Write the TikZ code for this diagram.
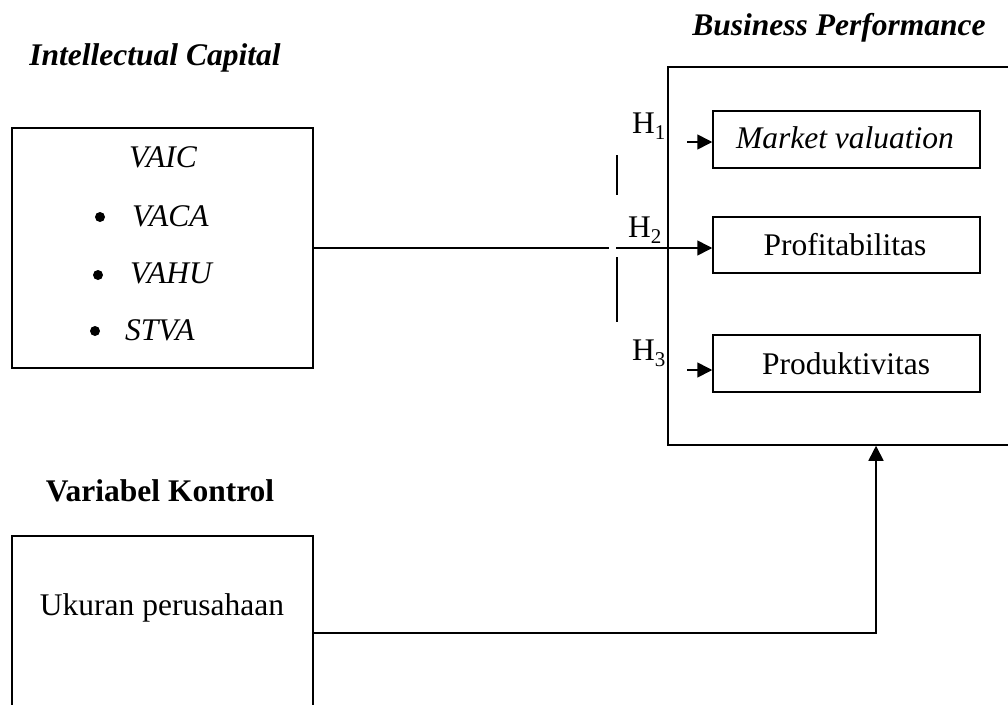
\documentclass[tikz,border=0pt]{standalone}
\usepackage{fontspec}
\setmainfont{Liberation Serif}
\usetikzlibrary{arrows.meta}
\newcommand{\hsub}[1]{H\raisebox{-6pt}{\fontsize{21}{21}\selectfont #1}}
\begin{document}
\begin{tikzpicture}[x=1pt,y=-1pt,
  box/.style={draw, line width=1.5pt, inner sep=0pt},
  txt/.style={inner sep=0pt, anchor=base, font=\fontsize{31.5}{36}\selectfont},
  ttl/.style={txt, font=\fontsize{31.5}{36}\selectfont\bfseries\itshape},
  dot/.style={circle, fill, inner sep=0pt, minimum size=10pt},
  conn/.style={line width=1.6pt},
  arr/.style={conn, -{Triangle[length=15pt,width=15pt]}}]
\useasboundingbox (0,0) rectangle (1008,704);
\clip (0,0) rectangle (1008,704);
% titles
\node[ttl] (ictitle) at (155,65) {Intellectual Capital};
\node[ttl] (bptitle) at (839,35) {Business Performance};
\node[txt, font=\fontsize{31.5}{36}\selectfont\bfseries] (vktitle) at (160,501) {Variabel Kontrol};
% boxes
\node[box, minimum width=301pt, minimum height=240pt] (ic) at (162.5,248) {};
\node[box, minimum width=352pt, minimum height=378pt] (bp) at (844,256) {};
\node[box, minimum width=267pt, minimum height=57pt] (mv) at (846.5,139.5) {};
\node[box, minimum width=267pt, minimum height=56pt] (prof) at (846.5,245) {};
\node[box, minimum width=267pt, minimum height=57pt] (prod) at (846.5,363.5) {};
\node[box, minimum width=301pt, minimum height=176pt] (uk) at (162.5,624) {};
% texts in boxes
\node[txt] (vaic) at (163,167) {\itshape VAIC};
\node[dot] (b1) at (100,217) {};
\node[txt, anchor=base west] (vaca) at (132,226) {\itshape VACA};
\node[dot] (b2) at (98,275) {};
\node[txt, anchor=base west] (vahu) at (130,283) {\itshape VAHU};
\node[dot] (b3) at (95,331) {};
\node[txt, anchor=base west] (stva) at (125,340) {\itshape STVA};
\node[txt] (mvt) at (845,148) {\itshape Market valuation};
\node[txt] (proft) at (845,255) {Profitabilitas};
\node[txt] (prodt) at (846,374) {Produktivitas};
\node[txt] (ukt) at (162,615) {Ukuran perusahaan};
% hypothesis labels
\node[txt, anchor=base west] (h1) at (632,133) {\hsub{1}};
\node[txt, anchor=base west] (h2) at (628,237) {\hsub{2}};
\node[txt, anchor=base west] (h3) at (632,360) {\hsub{3}};
% connectors
\coordinate (gapL) at (609,248);
\coordinate (gapR) at (616,248);
\draw[conn] (ic.east |- gapL) -- (gapL);
\draw[arr] (gapR) -- (prof.west |- gapR);
\coordinate (a1) at (687,142);
\coordinate (a3) at (687,370);
\draw[arr] (a1) -- (mv.west |- a1);
\draw[arr] (a3) -- (prod.west |- a3);
\coordinate (v1a) at (617,155);
\coordinate (v1b) at (617,195);
\coordinate (v2a) at (617,257);
\coordinate (v2b) at (617,322);
\draw[conn] (v1a) -- (v1b);
\draw[conn] (v2a) -- (v2b);
\coordinate (kc) at (876,633);
\draw[arr] (uk.east |- kc) -| (bp.south -| kc);
\end{tikzpicture}
\end{document}
